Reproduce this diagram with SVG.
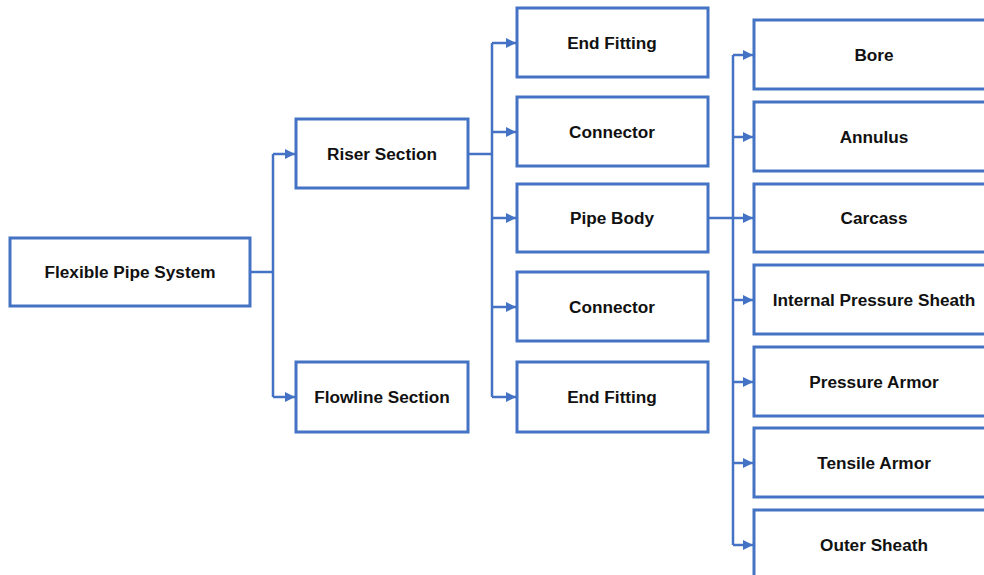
<svg xmlns="http://www.w3.org/2000/svg" width="984" height="575" viewBox="0 0 984 575">
<style>
.box{fill:#fff;stroke:#4472C4;stroke-width:3}
.lbl{font-family:"Liberation Sans",Arial,sans-serif;font-weight:bold;font-size:17.2px;fill:#111;text-anchor:middle;dominant-baseline:central}
.ln{fill:none;stroke:#4472C4;stroke-width:2.5}
</style>
<defs>
<marker id="ah" viewBox="0 0 10 10" refX="10" refY="5" markerWidth="4" markerHeight="4" orient="auto" markerUnits="strokeWidth">
<path d="M0,0 L10,5 L0,10 z" fill="#4472C4"/>
</marker>
</defs>
<rect width="984" height="575" fill="#fff"/>
<g id="connectors">
<path class="ln" d="M250,272 H273"/>
<path class="ln" d="M273,154 V397"/>
<path class="ln" d="M273,154 H295" marker-end="url(#ah)"/>
<path class="ln" d="M273,397 H295" marker-end="url(#ah)"/>
<path class="ln" d="M468,154 H492"/>
<path class="ln" d="M492,43 V397"/>
<path class="ln" d="M492,43 H516" marker-end="url(#ah)"/>
<path class="ln" d="M492,132 H516" marker-end="url(#ah)"/>
<path class="ln" d="M492,218 H516" marker-end="url(#ah)"/>
<path class="ln" d="M492,307 H516" marker-end="url(#ah)"/>
<path class="ln" d="M492,397 H516" marker-end="url(#ah)"/>
<path class="ln" d="M708,218 H733"/>
<path class="ln" d="M733,55 V545"/>
<path class="ln" d="M733,55 H753" marker-end="url(#ah)"/>
<path class="ln" d="M733,137 H753" marker-end="url(#ah)"/>
<path class="ln" d="M733,218 H753" marker-end="url(#ah)"/>
<path class="ln" d="M733,300 H753" marker-end="url(#ah)"/>
<path class="ln" d="M733,382 H753" marker-end="url(#ah)"/>
<path class="ln" d="M733,463 H753" marker-end="url(#ah)"/>
<path class="ln" d="M733,545 H753" marker-end="url(#ah)"/>
</g>
<g id="n-system"><rect class="box" x="10" y="238" width="240" height="68"/><text class="lbl" x="130" y="272">Flexible Pipe System</text></g>
<g id="n-riser"><rect class="box" x="296" y="119" width="172" height="69"/><text class="lbl" x="382" y="154">Riser Section</text></g>
<g id="n-flowline"><rect class="box" x="296" y="362" width="172" height="70"/><text class="lbl" x="382" y="397">Flowline Section</text></g>
<g id="n-endfitting1"><rect class="box" x="517" y="8" width="191" height="69"/><text class="lbl" x="612" y="43">End Fitting</text></g>
<g id="n-connector1"><rect class="box" x="517" y="97" width="191" height="69"/><text class="lbl" x="612" y="132">Connector</text></g>
<g id="n-pipebody"><rect class="box" x="517" y="184" width="191" height="68"/><text class="lbl" x="612" y="218">Pipe Body</text></g>
<g id="n-connector2"><rect class="box" x="517" y="272" width="191" height="69"/><text class="lbl" x="612" y="307">Connector</text></g>
<g id="n-endfitting2"><rect class="box" x="517" y="362" width="191" height="70"/><text class="lbl" x="612" y="397">End Fitting</text></g>
<g id="n-bore"><rect class="box" x="754" y="20" width="240" height="69"/><text class="lbl" x="874" y="55">Bore</text></g>
<g id="n-annulus"><rect class="box" x="754" y="102" width="240" height="69"/><text class="lbl" x="874" y="137">Annulus</text></g>
<g id="n-carcass"><rect class="box" x="754" y="184" width="240" height="68"/><text class="lbl" x="874" y="218">Carcass</text></g>
<g id="n-ips"><rect class="box" x="754" y="265" width="240" height="69"/><text class="lbl" x="874" y="300">Internal Pressure Sheath</text></g>
<g id="n-pa"><rect class="box" x="754" y="347" width="240" height="69"/><text class="lbl" x="874" y="382">Pressure Armor</text></g>
<g id="n-ta"><rect class="box" x="754" y="428" width="240" height="69"/><text class="lbl" x="874" y="463">Tensile Armor</text></g>
<g id="n-os"><rect class="box" x="754" y="510" width="240" height="69"/><text class="lbl" x="874" y="545">Outer Sheath</text></g>
</svg>
